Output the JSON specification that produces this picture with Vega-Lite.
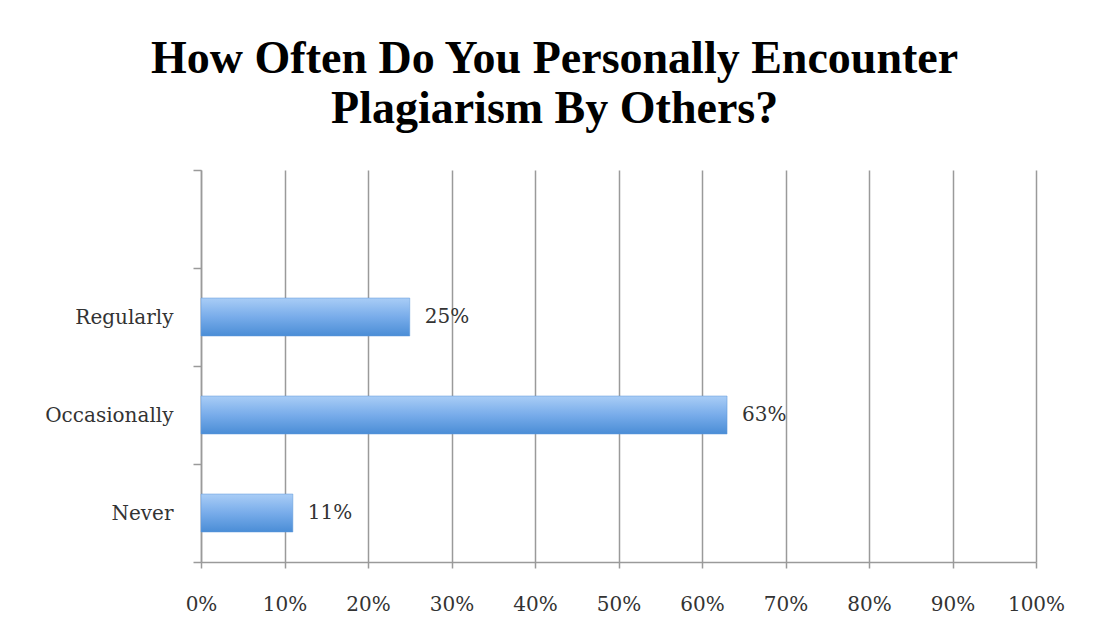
{
  "$schema": "https://vega.github.io/schema/vega-lite/v6.json",
  "autosize": {"type": "none"},
  "width": 835,
  "height": 392,
  "padding": {"left": 201, "top": 170, "right": 65, "bottom": 75},
  "background": "white",
  "title": {
    "text": ["How Often Do You Personally Encounter", "Plagiarism By Others?"],
    "font": "Liberation Serif",
    "fontSize": 46,
    "fontWeight": "bold",
    "color": "black",
    "lineHeight": 50,
    "anchor": "middle",
    "frame": "bounds",
    "offset": 27
  },
  "data": {
    "values": [
      {"category": "Regularly", "percent": 25, "label": "25%"},
      {"category": "Occasionally", "percent": 63, "label": "63%"},
      {"category": "Never", "percent": 11, "label": "11%"}
    ]
  },
  "encoding": {
    "y": {
      "field": "category",
      "type": "nominal",
      "scale": {"domain": ["", "Regularly", "Occasionally", "Never"], "paddingInner": 0, "paddingOuter": 0},
      "axis": {
        "title": null,
        "tickBand": "extent",
        "tickSize": 8,
        "tickColor": "#9a9a9a",
        "tickWidth": 1.5,
        "domainColor": "#9a9a9a",
        "domainWidth": 1.5,
        "labelFont": "DejaVu Serif",
        "labelFontSize": 20,
        "labelColor": "#333333",
        "labelPadding": 20,
        "grid": false
      }
    },
    "x": {
      "field": "percent",
      "type": "quantitative",
      "scale": {"domain": [0, 100], "nice": false},
      "axis": {
        "title": null,
        "values": [0, 10, 20, 30, 40, 50, 60, 70, 80, 90, 100],
        "labelExpr": "datum.value + '%'",
        "labelFlush": false,
        "labelOverlap": false,
        "grid": true,
        "gridColor": "#9a9a9a",
        "gridWidth": 1.5,
        "tickSize": 6,
        "tickColor": "#9a9a9a",
        "tickWidth": 1.5,
        "domainColor": "#9a9a9a",
        "domainWidth": 1.5,
        "labelFont": "DejaVu Serif",
        "labelFontSize": 20,
        "labelColor": "#333333",
        "labelPadding": 26
      }
    }
  },
  "layer": [
    {
      "mark": {
        "type": "bar",
        "height": 38,
        "color": {
          "gradient": "linear",
          "x1": 0, "y1": 0, "x2": 0, "y2": 1,
          "stops": [
            {"offset": 0, "color": "#a9cdf6"},
            {"offset": 0.5, "color": "#78acea"},
            {"offset": 1, "color": "#4a8dd6"}
          ]
        },
        "stroke": "#5d97d8",
        "strokeWidth": 0.5
      }
    },
    {
      "mark": {
        "type": "text",
        "align": "left",
        "baseline": "middle",
        "dx": 15,
        "font": "DejaVu Serif",
        "fontSize": 20,
        "color": "#333333"
      },
      "encoding": {
        "text": {"field": "label", "type": "nominal"}
      }
    }
  ],
  "config": {"view": {"stroke": null}}
}
